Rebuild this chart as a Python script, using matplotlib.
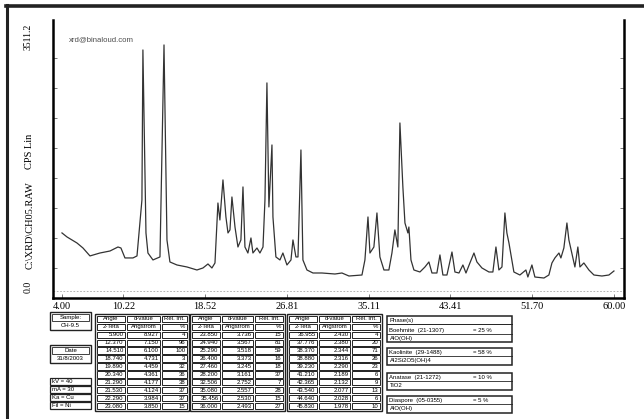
import numpy as np
import matplotlib
matplotlib.use("Agg")
import matplotlib.pyplot as plt
from matplotlib.patches import Rectangle

# diffractogram trace (2-Theta, CPS)
two_theta = [4.00, 4.51, 5.52, 6.13, 6.84, 7.85, 8.87, 9.68, 9.98, 10.39, 11.20, 11.61,
             12.11, 12.21, 12.52, 12.72, 13.23, 13.94, 14.35, 14.65, 14.95, 15.66, 16.68,
             17.69, 18.30, 18.81, 19.21, 19.52, 19.82, 20.02, 20.33, 20.63, 20.84, 21.04,
             21.24, 21.55, 21.85, 22.15, 22.36, 22.56, 22.86, 23.17, 23.37, 23.78, 24.08,
             24.39, 24.59, 24.79, 24.99, 25.30, 25.40, 25.70, 26.11, 26.41, 26.82, 27.23,
             27.43, 27.73, 27.94, 28.24, 28.44, 28.85, 29.46, 30.37, 31.69, 32.40, 33.11,
             34.43, 34.73, 35.04, 35.24, 35.64, 35.95, 36.25, 36.66, 37.16, 37.47, 37.77,
             38.07, 38.28, 38.58, 38.79, 39.09, 39.19, 39.40, 39.70, 40.31, 40.82, 41.22,
             41.53, 42.03, 42.34, 42.64, 43.05, 43.56, 43.86, 44.27, 44.67, 44.98, 45.38,
             45.79, 46.09, 46.60, 47.31, 47.71, 48.02, 48.32, 48.63, 48.93, 49.13, 49.34,
             49.84, 50.45, 51.06, 51.26, 51.67, 51.97, 52.89, 53.39, 53.70, 54.00, 54.41,
             54.61, 54.91, 55.22, 55.42, 55.72, 56.03, 56.33, 56.54, 56.94, 57.45, 57.96,
             58.77, 59.48, 59.99]
cps = [752, 700, 622, 557, 454, 492, 518, 570, 557, 428, 428, 454,
       1179, 3123, 752, 492, 402, 441, 3188, 661, 376, 337, 311,
       272, 298, 350, 298, 363, 1140, 920, 1439, 959, 752, 791,
       1218, 829, 570, 661, 1348, 570, 492, 687, 492, 557, 492,
       570, 1179, 2696, 1089, 1892, 959, 441, 402, 492, 337, 402,
       661, 441, 441, 1827, 402, 272, 233, 233, 220, 233, 194,
       207, 402, 959, 492, 570, 1011, 441, 272, 272, 492, 791,
       570, 2177, 1348, 881, 752, 829, 402, 272, 246, 311, 376,
       233, 233, 467, 207, 207, 505, 246, 233, 337, 233, 363,
       492, 376, 298, 246, 246, 570, 272, 311, 1011, 752, 622,
       246, 207, 272, 181, 337, 181, 168, 207, 363, 428, 492,
       428, 557, 881, 661, 492, 311, 570, 311, 363, 272, 207,
       194, 207, 259]

x_tick_vals = [4.00, 10.22, 18.52, 26.81, 35.11, 43.41, 51.70, 60.00]
y_max = 3511.2

# peak list tables
tab1_angle = ["5.900", "12.370", "14.510", "18.740", "19.890", "20.340", "21.290", "21.530", "22.290", "23.080"]
tab1_d = ["8.927", "7.150", "6.100", "4.731", "4.459", "4.361", "4.177", "4.124", "3.984", "3.850"]
tab1_int = ["4", "96", "100", "3", "32", "36", "38", "37", "37", "15"]
tab2_angle = ["23.850", "24.940", "25.290", "26.400", "27.460", "28.200", "32.506", "35.080", "35.456", "36.000"]
tab2_d = ["3.736", "3.567", "3.518", "3.373", "3.245", "3.161", "2.752", "2.557", "2.530", "2.493"]
tab2_int = ["15", "81", "59", "16", "18", "37", "7", "28", "15", "27"]
tab3_angle = ["36.955", "37.776", "38.370", "38.880", "39.230", "41.210", "42.365", "43.540", "44.640", "45.830"]
tab3_d = ["2.430", "2.380", "2.344", "2.316", "2.290", "2.189", "2.132", "2.077", "2.028", "1.978"]
tab3_int = ["4", "20", "71", "26", "23", "6", "9", "13", "6", "10"]

phase_names = ["Boehmite  (21-1307)", "Kaolinite  (29-1488)", "Anatase  (21-1272)", "Diaspore  (05-0355)"]
phase_pct = ["= 25 %", "= 58 %", "= 10 %", "= 5 %"]
phase_formula = ["AlO(OH)", "Al2Si2O5(OH)4", "TiO2", "AlO(OH)"]
scan_params = ["kV = 40", "mA = 30", "Ka = Cu", "Fil = Ni"]

serif = "Liberation Serif"
sans = "Liberation Sans"

fig = plt.figure(figsize=(6.44, 4.19), dpi=100)

# pixel overlay for border and tables
ov = fig.add_axes([0, 0, 1, 1])
ov.set_xlim(0, 644)
ov.set_ylim(419, 0)
ov.axis("off")
ov.plot([7, 7], [5, 419], color="#222222", lw=2.2)
ov.plot([6, 644], [6, 6], color="#222222", lw=2.6)

ax = fig.add_axes([53 / 644, 1 - 298 / 419, 571 / 644, 278 / 419])
ax.set_facecolor("none")
ax.plot(two_theta, cps, color="#333333", lw=0.9)
ax.axhline(0, color="0.65", lw=0.6, ls=(0, (2, 2)))
ax.set_xlim(3.09, 61.01)
ax.set_ylim(-91, y_max)
ax.spines["top"].set_visible(False)
for s in ["left", "right", "bottom"]:
    ax.spines[s].set_linewidth(1.8)
ax.set_yticks(-91 + 389 * np.arange(1, 9))
ax.set_yticklabels([])
ax.set_xticks(x_tick_vals)
ax.set_xticklabels([f"{v:.2f}" for v in x_tick_vals], fontfamily=serif, fontsize=7.5)
ax.tick_params(axis="both", direction="in", length=3, width=0.6, color="0.4")
ax.tick_params(axis="y", right=True)
ax.tick_params(axis="x", pad=3)
ax.text(0.027, 0.925, "xrd@binaloud.com", transform=ax.transAxes, fontsize=5.6,
        fontfamily=sans, color="0.3")

# rotated y-axis texts
ov.text(28, 37, f"{y_max:.1f}", rotation=90, ha="center", va="center", fontfamily=serif, fontsize=7)
ov.text(28, 287, "0.0", rotation=90, ha="center", va="center", fontfamily=serif, fontsize=7)
ov.text(30, 151, "CPS Lin", rotation=90, ha="center", va="center", fontfamily=serif, fontsize=7.5)
ov.text(30, 225, "C:\\XRD\\CH05.RAW", rotation=90, ha="center", va="center", fontfamily=serif, fontsize=7.5)

fs = 4.3


def box(x, y, w, h, lw=0.9):
    ov.add_patch(Rectangle((x, y), w, h, fill=False, ec="#222222", lw=lw))


def draw_table(x0, y0, widths, row_h, angle, dval, rel):
    header = [["Angle", "d-value", "Rel. Int."], ["2-Teta", "Angstrom", "%"]]
    rows = header + [list(r) for r in zip(angle, dval, rel)]
    box(x0 - 1, y0 - 1, sum(widths) + 2, row_h * len(rows) + 2, lw=1.0)
    for i, row in enumerate(rows):
        y = y0 + i * row_h
        x = x0
        for j, (w, txt) in enumerate(zip(widths, row)):
            box(x + 1, y + 0.8, w - 2, row_h - 1.6, lw=0.7)
            if i < 2 and not (i == 1 and j == 2):
                ov.text(x + w / 2, y + row_h / 2, txt, ha="center", va="center",
                        fontsize=fs, fontfamily=sans)
            else:
                ov.text(x + w - 2.5, y + row_h / 2, txt, ha="right", va="center",
                        fontsize=fs, fontfamily=sans)
            x += w


row_h = 95 / 12
draw_table(96, 315, [30, 35, 27], row_h, tab1_angle, tab1_d, tab1_int)
draw_table(191, 315, [30, 33, 30], row_h, tab2_angle, tab2_d, tab2_int)
draw_table(288, 315, [30, 33, 30], row_h, tab3_angle, tab3_d, tab3_int)

# sample / date / parameters boxes
box(50, 312, 41, 18, lw=1.0)
box(52, 313.5, 37, 7, lw=0.6)
ov.text(70.5, 317, "Sample:", ha="center", va="center", fontsize=fs, fontfamily=sans)
ov.text(70.5, 325.5, "CH-9.5", ha="center", va="center", fontsize=fs, fontfamily=sans)
box(50, 345, 41, 18, lw=1.0)
box(52, 346.5, 37, 7, lw=0.6)
ov.text(70.5, 350, "Date", ha="center", va="center", fontsize=fs, fontfamily=sans)
ov.text(70.5, 358.5, "31/8/2003", ha="center", va="center", fontsize=fs, fontfamily=sans)
for i, p in enumerate(scan_params):
    y = 378 + i * 8
    box(50, y, 41, 7.4, lw=0.9)
    ov.text(52.5, y + 3.8, p, ha="left", va="center", fontsize=fs, fontfamily=sans)

# phase boxes
phase_tops = [326, 348, 373, 396]
box(387, 316, 125, 26, lw=1.1)
ov.text(389.5, 320, "Phase(s)", ha="left", va="center", fontsize=fs, fontfamily=sans)
ov.plot([387, 512], [324, 324], color="#222222", lw=0.7)
for i, (name, pct, form) in enumerate(zip(phase_names, phase_pct, phase_formula)):
    top = phase_tops[i]
    if i > 0:
        box(387, top, 125, 17, lw=1.1)
    ov.text(389.5, top + 4, name, ha="left", va="center", fontsize=fs, fontfamily=sans)
    ov.text(473, top + 4, pct, ha="left", va="center", fontsize=fs, fontfamily=sans)
    ov.plot([387, 512], [top + 8, top + 8], color="#222222", lw=0.6)
    ov.text(389.5, top + 12.3, form, ha="left", va="center", fontsize=fs, fontfamily=sans)

fig.savefig("out.png", dpi=100)
